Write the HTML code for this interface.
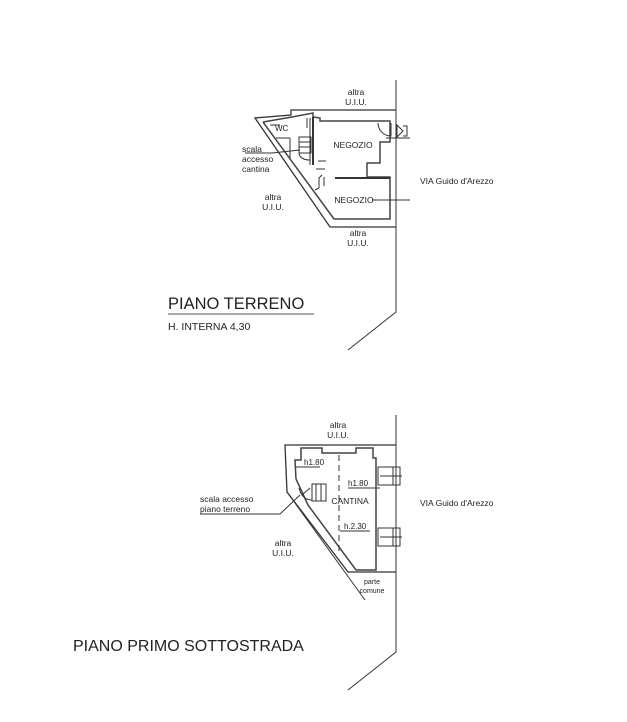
<!DOCTYPE html>
<html><head><meta charset="utf-8"><style>
html,body{margin:0;padding:0;background:#fff;}
svg{display:block;}
text{font-family:"Liberation Sans",Arial,sans-serif;fill:#222;}
</style></head><body>
<svg width="627" height="722" viewBox="0 0 627 722" xmlns="http://www.w3.org/2000/svg">
<g stroke="#333" fill="none" stroke-width="1">
<polyline points="396,80 396,312 348,350"/>
<polyline points="396,415 396,652 348,690"/>
<polyline points="396,110 291,110 291,115 255,118 330,227 396,227" stroke-width="1.3"/>
<polyline points="263,122 292,117 313,113 313,117 320,118 320,121 390,121 390,142 380,142 380,163 367,163 367,177 390,177 390,219 334,219 263,122" stroke-width="1.5" stroke="#444"/>
<line x1="313" y1="117" x2="313" y2="165" stroke-width="2"/>
<line x1="310" y1="118" x2="310" y2="165"/>
<line x1="307" y1="118" x2="307" y2="128"/>
<line x1="335" y1="178" x2="390" y2="178" stroke-width="2"/>
<line x1="270" y1="125" x2="280" y2="125"/>
<line x1="276" y1="138" x2="290" y2="138"/>
<line x1="290" y1="138" x2="290" y2="158"/>
<rect x="299" y="137" width="12" height="16"/>
<line x1="299" y1="142" x2="311" y2="142"/><line x1="299" y1="147" x2="311" y2="147"/>
<path d="M299 153 Q300 160 310 160"/>
<line x1="245" y1="153" x2="272" y2="153"/><line x1="272" y1="153" x2="300" y2="150"/>
<line x1="318" y1="161" x2="326" y2="161"/>
<line x1="316" y1="169" x2="325" y2="169"/>
<path d="M322 175 L319 178 L319 188 L315 190"/>
<line x1="324" y1="177" x2="324" y2="186"/>
<path d="M378 123 A13 13 0 0 0 391 136 L391 123"/>
<path d="M397 125 L403 131 L397 137 Z M403 126 L407 126 L407 136 L403 136"/>
<line x1="386" y1="138" x2="410" y2="138"/>
<line x1="372" y1="200" x2="410" y2="200"/>
<polyline points="396,445 285,445 287,492 348,572 396,572" stroke-width="1.3"/>
<line x1="287" y1="492" x2="365" y2="600"/>
<polyline points="296,479 295,460 301,460 301,448 322,448 322,453 356,453 356,448 373,448 373,458 376,458 376,570 356,570 308,505 296,479" stroke-width="1.5" stroke="#444"/>
<line x1="339" y1="455" x2="339" y2="555" stroke-dasharray="6,4"/>
<line x1="296" y1="467" x2="320" y2="467"/>
<line x1="348" y1="488" x2="380" y2="488"/>
<line x1="340" y1="531" x2="370" y2="531"/>
<path d="M299 488 Q302 500 312 500"/>
<rect x="312" y="484" width="14" height="17"/>
<line x1="316" y1="484" x2="316" y2="501"/><line x1="321" y1="484" x2="321" y2="501"/>
<line x1="302" y1="495" x2="310" y2="488"/>
<line x1="200" y1="514" x2="280" y2="514"/><line x1="280" y1="514" x2="300" y2="495"/>
<rect x="378" y="467" width="22" height="18"/><rect x="393" y="467" width="7" height="18"/>
<line x1="380" y1="476" x2="402" y2="476"/>
<rect x="378" y="528" width="22" height="18"/><rect x="393" y="528" width="7" height="18"/>
<line x1="380" y1="537" x2="402" y2="537"/>
<line x1="168" y1="314" x2="314" y2="314" stroke="#555"/>
</g>
<g font-size="8.5">
<text x="356" y="95" text-anchor="middle">altra</text>
<text x="356" y="105" text-anchor="middle">U.I.U.</text>
<text x="275" y="131" font-size="8">WC</text>
<text x="353" y="148" text-anchor="middle">NEGOZIO</text>
<text x="354" y="203" text-anchor="middle">NEGOZIO</text>
<text x="242" y="152">scala</text>
<text x="242" y="162">accesso</text>
<text x="242" y="172">cantina</text>
<text x="273" y="200" text-anchor="middle">altra</text>
<text x="273" y="210" text-anchor="middle">U.I.U.</text>
<text x="358" y="236" text-anchor="middle">altra</text>
<text x="358" y="246" text-anchor="middle">U.I.U.</text>
<text x="420" y="184">VIA Guido d'Arezzo</text>
<text x="338" y="428" text-anchor="middle">altra</text>
<text x="338" y="438" text-anchor="middle">U.I.U.</text>
<text x="304" y="465" font-size="8">h1.80</text>
<text x="348" y="486" font-size="8">h1.80</text>
<text x="344" y="529" font-size="8">h.2.30</text>
<text x="350" y="504" text-anchor="middle">CANTINA</text>
<text x="200" y="502">scala accesso</text>
<text x="200" y="512">piano terreno</text>
<text x="283" y="546" text-anchor="middle">altra</text>
<text x="283" y="556" text-anchor="middle">U.I.U.</text>
<text x="372" y="584" text-anchor="middle" font-size="7">parte</text>
<text x="372" y="593" text-anchor="middle" font-size="7">comune</text>
<text x="420" y="506">VIA Guido d'Arezzo</text>
</g>
<text x="168" y="309" font-size="16.5">PIANO TERRENO</text>
<text x="168" y="330" font-size="10.5">H. INTERNA 4,30</text>
<text x="73" y="651" font-size="16">PIANO PRIMO SOTTOSTRADA</text>
</svg>
</body></html>
